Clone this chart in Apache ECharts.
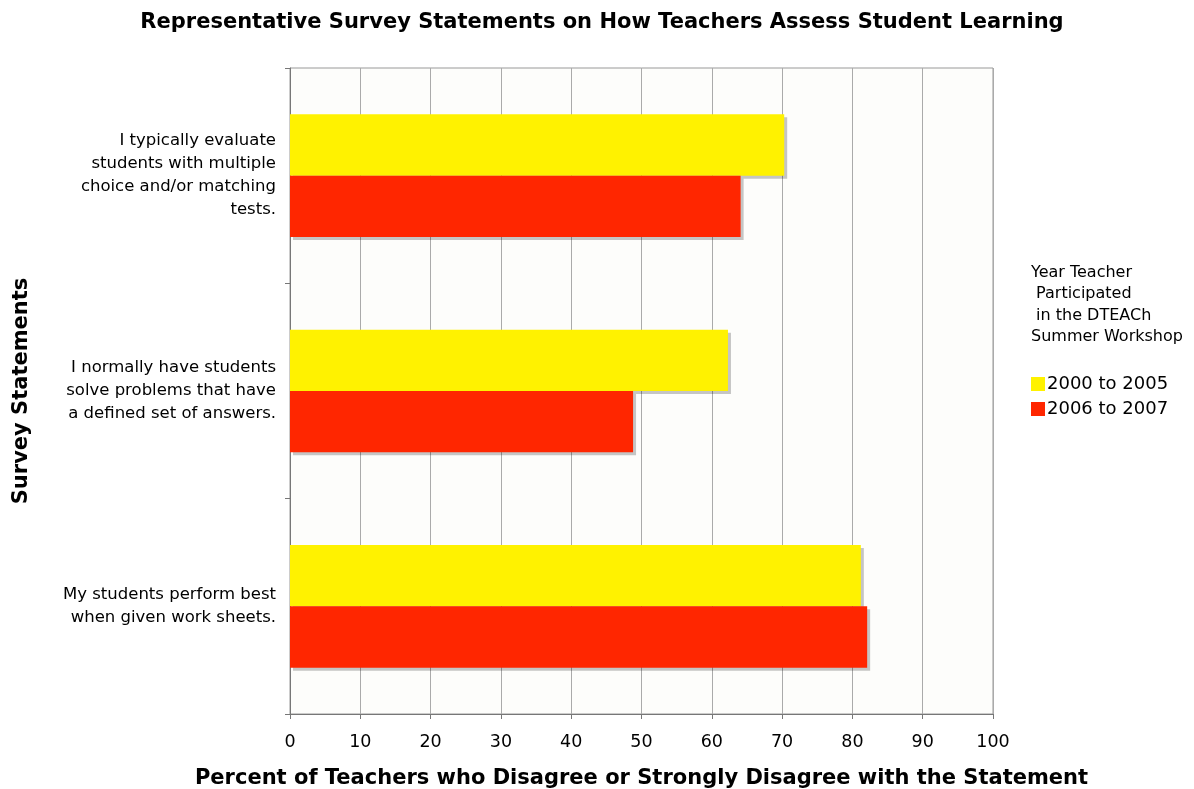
<!DOCTYPE html>
<html><head><meta charset="utf-8">
<script src="https://cdn.jsdelivr.net/npm/echarts@6/dist/echarts.min.js"></script>
<style>html,body{margin:0;padding:0;background:#fff}#c{width:1194px;height:789px}</style>
</head><body><div id="c"></div>
<script>
const categories = [
  "I typically evaluate\nstudents with multiple\nchoice and/or matching\ntests.",
  "I normally have students\nsolve problems that have\na defined set of answers.",
  "My students perform best\nwhen given work sheets."
];
const seriesNames = ["2000 to 2005", "2006 to 2007"];
const values2000to2005 = [70.3, 62.3, 81.2];
const values2006to2007 = [64.1, 48.8, 82.1];
const xTicks = [0, 10, 20, 30, 40, 50, 60, 70, 80, 90, 100];

const font = "Verdana, 'DejaVu Sans', sans-serif";
const chart = echarts.init(document.getElementById('c'));
const shadow = {shadowColor: 'rgba(0,0,0,0.22)', shadowOffsetX: 3, shadowOffsetY: 3, shadowBlur: 0};
chart.setOption({
  backgroundColor: '#ffffff',
  animation: false,
  title: {
    text: 'Representative Survey Statements on How Teachers Assess Student Learning',
    left: 597, textAlign: 'center', top: 7,
    textStyle: {fontFamily: font, fontSize: 21, fontWeight: 'bold', color: '#000'}
  },
  legend: {
    orient: 'vertical', left: 1026, top: 370, itemWidth: 14, itemHeight: 14, itemGap: 7,
    icon: 'rect',
    textStyle: {fontFamily: font, fontSize: 18, color: '#000', padding: [0,0,0,-3]},
    data: seriesNames
  },
  graphic: [{
    type: 'text', left: 1031, top: 262,
    style: {text: 'Year Teacher\n Participated\n in the DTEACh\nSummer Workshop', font: '16px ' + font, fill: '#000', lineHeight: 21.5}
  }],
  grid: {left: 290, right: 201, top: 68, bottom: 75, containLabel: false, outerBoundsMode: 'none',
    show: true, backgroundColor: '#fdfdfb', borderColor: '#999', borderWidth: 1},
  xAxis: {
    type: 'value', min: 0, max: 100, interval: 10,
    name: 'Percent of Teachers who Disagree or Strongly Disagree with the Statement',
    nameLocation: 'middle', nameGap: 54,
    nameTextStyle: {fontFamily: font, fontSize: 21, fontWeight: 'bold', color: '#000'},
    axisLine: {show: true, lineStyle: {color: '#777'}},
    axisTick: {show: true, length: 5, lineStyle: {color: '#777'}},
    axisLabel: {fontFamily: font, fontSize: 17.5, color: '#000', margin: 19,
      formatter: v => xTicks.includes(v) ? String(v) : ''},
    splitLine: {show: true, lineStyle: {color: '#aaa', width: 1}}
  },
  yAxis: {
    type: 'category', data: categories, inverse: true,
    name: 'Survey Statements', nameLocation: 'middle', nameGap: 258, nameRotate: 90,
    nameTextStyle: {fontFamily: font, fontSize: 21, fontWeight: 'bold', color: '#000'},
    axisLine: {show: true, lineStyle: {color: '#777'}},
    axisTick: {show: true, length: 5, lineStyle: {color: '#777'}},
    axisLabel: {fontFamily: font, fontSize: 16.5, color: '#000', margin: 14, lineHeight: 23, align: 'right', padding: [3, 0, 0, 0]}
  },
  series: [
    {name: seriesNames[0], type: 'bar', data: values2000to2005, barGap: '0%', barCategoryGap: '43%',
      itemStyle: Object.assign({color: '#fff200'}, shadow)},
    {name: seriesNames[1], type: 'bar', data: values2006to2007, barGap: '0%', barCategoryGap: '43%',
      itemStyle: Object.assign({color: '#ff2600'}, shadow)}
  ]
});
</script></body></html>
